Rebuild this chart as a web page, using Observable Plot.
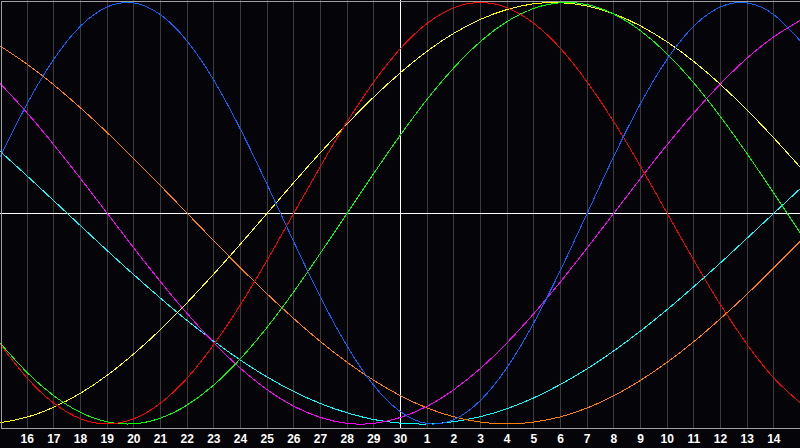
<!DOCTYPE html>
<html><head><meta charset="utf-8">
<script src="https://cdn.jsdelivr.net/npm/d3@7"></script>
<script src="https://cdn.jsdelivr.net/npm/@observablehq/plot@0.6"></script>
<style>
html,body{margin:0;padding:0;background:#050408;}
svg{display:block;shape-rendering:crispEdges;}
</style>
</head><body><div id="chart"></div>
<script>
// x positions (day index along the strip) for the sampled values
const days = [15,16,17,18,19,20,21,22,23,24,25,26,27,28,29,30,31,32,33,34,35,36,37,38,39,40,41,42,43,44,45];
// gridline days and their labels
const gridDays = [16,17,18,19,20,21,22,23,24,25,26,27,28,29,30,31,32,33,34,35,36,37,38,39,40,41,42,43,44];
const tickLabels = ["16","17","18","19","20","21","22","23","24","25","26","27","28","29","30","1","2","3","4","5","6","7","8","9","10","11","12","13","14"];

// series values (one per day)
const blue    = [0.270,0.520,0.731,0.888,0.979,0.998,0.942,0.817,0.631,0.398,0.136,-0.136,-0.398,-0.631,-0.817,-0.942,-0.998,-0.979,-0.888,-0.731,-0.520,-0.270,0.000,0.270,0.520,0.731,0.888,0.979,0.998,0.942,0.817];
const red     = [-0.623,-0.782,-0.901,-0.975,-1.000,-0.975,-0.901,-0.782,-0.623,-0.434,-0.223,0.000,0.223,0.434,0.623,0.782,0.901,0.975,1.000,0.975,0.901,0.782,0.623,0.434,0.223,0.000,-0.223,-0.434,-0.623,-0.782,-0.901];
const green   = [-0.618,-0.756,-0.866,-0.945,-0.990,-0.999,-0.972,-0.910,-0.815,-0.690,-0.541,-0.372,-0.189,0.000,0.189,0.372,0.541,0.690,0.815,0.910,0.972,0.999,0.990,0.945,0.866,0.756,0.618,0.458,0.282,0.095,-0.095];
const magenta = [0.614,0.476,0.325,0.165,0.000,-0.165,-0.325,-0.476,-0.614,-0.736,-0.837,-0.916,-0.969,-0.997,-0.997,-0.969,-0.916,-0.837,-0.736,-0.614,-0.476,-0.325,-0.165,0.000,0.165,0.325,0.476,0.614,0.736,0.837,0.916];
const yellow  = [-0.994,-0.967,-0.920,-0.854,-0.769,-0.667,-0.552,-0.424,-0.288,-0.146,0.000,0.146,0.288,0.424,0.552,0.667,0.769,0.854,0.920,0.967,0.994,0.999,0.983,0.946,0.889,0.813,0.720,0.611,0.489,0.357,0.217];
const orange  = [0.793,0.707,0.609,0.500,0.383,0.259,0.131,0.000,-0.131,-0.259,-0.383,-0.500,-0.609,-0.707,-0.793,-0.866,-0.924,-0.966,-0.991,-1.000,-0.991,-0.966,-0.924,-0.866,-0.793,-0.707,-0.609,-0.500,-0.383,-0.259,-0.131];
const cyan    = [0.292,0.177,0.059,-0.059,-0.177,-0.292,-0.403,-0.509,-0.607,-0.697,-0.777,-0.846,-0.903,-0.947,-0.979,-0.996,-1.000,-0.989,-0.965,-0.927,-0.876,-0.812,-0.738,-0.653,-0.559,-0.457,-0.348,-0.235,-0.118,0.000,0.118];

const seriesList = [
  {values: cyan,    color: "#00ffff"},
  {values: orange,  color: "#ff8000"},
  {values: magenta, color: "#ff00ff"},
  {values: yellow,  color: "#ffff00"},
  {values: green,   color: "#00ff00"},
  {values: red,     color: "#ff0000"},
  {values: blue,    color: "#0a64ff"}
];
const toRows = vals => vals.map((v, i) => ({day: days[i], v}));
const ticks = gridDays.map((d, i) => ({day: d, label: tickLabels[i]}));

const chart = Plot.plot({
  width: 800,
  height: 448,
  marginLeft: 0,
  marginRight: 0,
  marginTop: 2,
  marginBottom: 24.5,
  style: {background: "#050408", overflow: "visible"},
  x: {domain: [15, 45], axis: null},
  y: {domain: [-1, 1], axis: null},
  marks: [
    Plot.ruleX(gridDays, {stroke: "#3c3c3c", strokeWidth: 1, strokeOpacity: 1, insetTop: -2, insetBottom: -4.5}),
    Plot.ruleY([0], {stroke: "#ffffff", strokeWidth: 1}),
    Plot.ruleX([30], {stroke: "#ffffff", strokeWidth: 1, insetTop: -2, insetBottom: -4.5}),
    ...seriesList.map(s => Plot.line(toRows(s.values), {x: "day", y: "v", stroke: s.color, strokeWidth: 1, curve: "natural"})),
    Plot.frame({stroke: "#a0a0a0", strokeWidth: 1, insetTop: -1.5, insetBottom: -4, insetLeft: 0.5, insetRight: 0.5}),
    Plot.text(ticks, {x: "day", text: "label", frameAnchor: "bottom", dy: 15.5, lineAnchor: "middle", fill: "#ffffff", fontSize: 12, fontWeight: "bold", fontFamily: "Liberation Sans, Arial, sans-serif"})
  ]
});
document.getElementById("chart").append(chart);
</script></body></html>
